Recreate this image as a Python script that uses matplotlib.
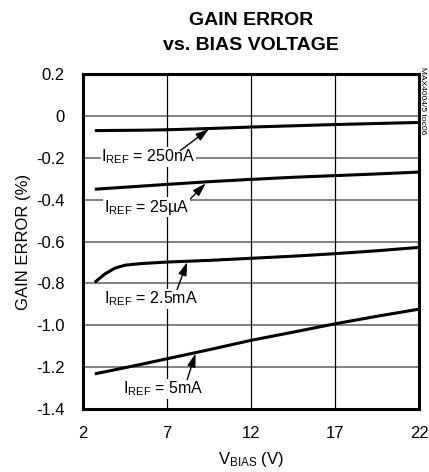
import matplotlib
matplotlib.use('Agg')
import matplotlib.pyplot as plt

plt.rcParams['font.family'] = ['Liberation Sans', 'DejaVu Sans']

# data
v_bias = [2.7, 4.0, 5.5, 7.0, 9.5, 12.0, 14.5, 17.0, 19.5, 22.0]
err_250n = [-0.070, -0.069, -0.068, -0.066, -0.060, -0.053, -0.047, -0.041, -0.036, -0.031]
err_25u = [-0.350, -0.343, -0.335, -0.327, -0.314, -0.303, -0.293, -0.285, -0.277, -0.268]
v_bias_25m = [2.7, 3.3, 3.9, 4.5, 5.5, 7.0, 9.5, 12.0, 14.5, 17.0, 19.5, 22.0]
err_25m = [-0.795, -0.755, -0.727, -0.713, -0.705, -0.698, -0.690, -0.680, -0.670, -0.658, -0.644, -0.628]
err_5m = [-1.232, -1.211, -1.186, -1.160, -1.117, -1.072, -1.033, -0.993, -0.957, -0.923]

labels = ['$\\mathregular{I_{REF}}$ = 250nA', '$\\mathregular{I_{REF}}$ = 25\u00b5A',
          '$\\mathregular{I_{REF}}$ = 2.5mA', '$\\mathregular{I_{REF}}$ = 5mA']
label_xy = [(3.1, -0.196), (3.25, -0.435), (3.25, -0.875), (4.4, -1.305)]
arrow_tail = [(7.8, -0.165), (8.4, -0.395), (7.6, -0.83), (8.2, -1.26)]
arrow_head = [(9.5, -0.062), (9.3, -0.322), (8.2, -0.698), (8.7, -1.135)]

xticks = [2, 7, 12, 17, 22]
yticks = [0.2, 0, -0.2, -0.4, -0.6, -0.8, -1.0, -1.2, -1.4]
ytick_labels = ['0.2', '0', '-0.2', '-0.4', '-0.6', '-0.8', '-1.0', '-1.2', '-1.4']

fig = plt.figure(figsize=(4.29, 4.72), dpi=100)
ax = fig.add_axes([0.1935, 0.1335, 0.7832, 0.7095])

for y in yticks[1:-1]:
    ax.axhline(y, color='#808080', lw=1.4, zorder=1)
for x in xticks[1:-1]:
    ax.axvline(x, color='black', lw=0.9, zorder=1)

for xs, ys in [(v_bias, err_250n), (v_bias, err_25u), (v_bias_25m, err_25m), (v_bias, err_5m)]:
    ax.plot(xs, ys, color='black', lw=2.2, solid_capstyle='butt', zorder=3)

for lab, xy, t, h in zip(labels, label_xy, arrow_tail, arrow_head):
    ax.text(xy[0], xy[1], lab, fontsize=11.5, va='center', ha='left', zorder=4,
            bbox=dict(facecolor='white', edgecolor='none', pad=0.5))
    ax.annotate('', xy=h, xytext=t, zorder=5,
                arrowprops=dict(arrowstyle='-|>,head_length=0.8,head_width=0.25',
                                color='black', lw=1.0, shrinkA=0, shrinkB=0))

ax.set_xlim(2, 22)
ax.set_ylim(-1.4, 0.2)
ax.set_xticks(xticks)
ax.set_yticks(yticks)
ax.set_yticklabels(ytick_labels)
ax.tick_params(length=0, labelsize=12)
ax.tick_params(axis='y', pad=13)
ax.tick_params(axis='x', pad=12)
for s in ax.spines.values():
    s.set_linewidth(2.2)

ax.set_xlabel('$\\mathregular{V_{BIAS}}$ (V)', fontsize=12, labelpad=7)
ax.set_ylabel('GAIN ERROR (%)', fontsize=12, labelpad=4)
fig.suptitle('GAIN ERROR\nvs. BIAS VOLTAGE', fontsize=14, fontweight='bold',
             x=0.585, y=0.975, linespacing=1.6)
fig.text(0.993, 0.858, 'MAX4004/5 toc06', rotation=270, fontsize=6, ha='right', va='top')

fig.savefig('out.png', dpi=100)
